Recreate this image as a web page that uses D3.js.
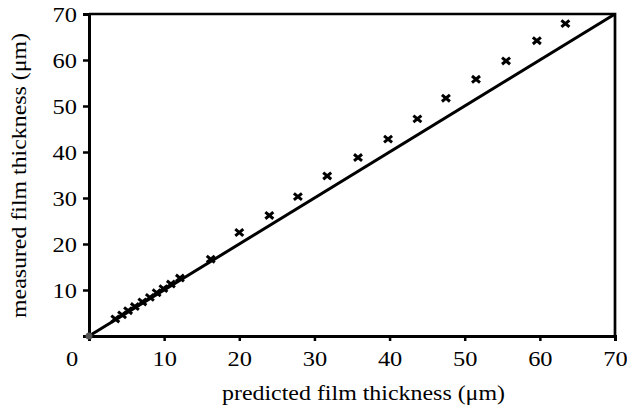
<!DOCTYPE html>
<html>
<head>
<meta charset="utf-8">
<script src="https://cdn.jsdelivr.net/npm/d3@7"></script>
<style>
  body { margin: 0; background: #fff; }
  text { font-family: "Liberation Serif", "Times New Roman", serif; fill: #000; }
</style>
</head>
<body>
<svg id="chart" width="627" height="411"></svg>
<script>
// predicted vs measured film thickness (um)
const predicted = [3.5, 4.4, 5.2, 6.1, 7.1, 8.1, 9.0, 9.9, 10.9, 12.1, 16.2, 20.0, 24.0, 27.8, 31.7, 35.8, 39.8, 43.7, 47.5, 51.5, 55.5, 59.6, 63.4];
const measured  = [3.7, 4.6, 5.5, 6.4, 7.4, 8.4, 9.4, 10.3, 11.3, 12.6, 16.7, 22.5, 26.2, 30.3, 34.8, 38.8, 42.8, 47.2, 51.7, 55.8, 59.8, 64.2, 67.9];
// model line y = x
const lineX = [0, 70];
const xTicks = [0, 10, 20, 30, 40, 50, 60, 70];
const yTicks = [10, 20, 30, 40, 50, 60, 70];

const svg = d3.select("#chart"),
    margin = {top: 14, right: 12, bottom: 75, left: 89},
    width = 627 - margin.left - margin.right,
    height = 411 - margin.top - margin.bottom;

const g = svg.append("g").attr("transform", `translate(${margin.left},${margin.top})`);

const x = d3.scaleLinear().domain([0, 70]).range([0, width]);
const y = d3.scaleLinear().domain([0, 70]).range([height, 0]);

// frame (top and right)
g.append("path")
  .attr("d", `M0,0H${width}V${height}`)
  .attr("fill", "none")
  .attr("stroke", "#000")
  .attr("stroke-width", 2.7);

const xAxis = g.append("g")
  .attr("transform", `translate(0,${height})`)
  .call(d3.axisBottom(x).tickValues(xTicks).tickSize(5).tickPadding(10).tickFormat(d3.format("d")));

const yAxis = g.append("g")
  .call(d3.axisLeft(y).tickValues(yTicks).tickSize(6).tickPadding(6).tickFormat(d3.format("d")));

[xAxis, yAxis].forEach(a => {
  a.select(".domain").attr("stroke-width", 3).attr("stroke", "#000");
  a.selectAll(".tick line").attr("stroke-width", 2.5).attr("stroke", "#000");
  a.selectAll(".tick text")
    .style("font-family", '"Liberation Serif", serif')
    .style("font-size", "21px")
    .attr("fill", "#000")
    .attr("textLength", d => String(d).length * 12.2)
    .attr("lengthAdjust", "spacingAndGlyphs");
});
yAxis.selectAll(".tick text").attr("dy", "0.34em");
// the "0" sits left of the corner in the original
xAxis.selectAll(".tick").filter(d => d === 0).select("text").attr("x", -17.5);

// y = x line
g.append("path")
  .datum(lineX)
  .attr("d", d3.line().x(d => x(d)).y(d => y(d)))
  .attr("fill", "none")
  .attr("stroke", "#000")
  .attr("stroke-width", 3);

// origin point
g.append("circle")
  .attr("cx", x(0)).attr("cy", y(0)).attr("r", 3.5)
  .attr("fill", "#555");

// x markers
const pts = predicted.map((p, i) => ({p: p, m: measured[i]}));
g.selectAll(".mark")
  .data(pts)
  .join("path")
  .attr("class", "mark")
  .attr("transform", d => `translate(${x(d.p)},${y(d.m)})`)
  .attr("d", "M-4,-3.3L4,3.3M-4,3.3L4,-3.3")
  .attr("stroke", "#000")
  .attr("stroke-width", 3)
  .attr("fill", "none");

// axis titles
svg.append("text")
  .attr("x", 363.5)
  .attr("y", 400)
  .attr("text-anchor", "middle")
  .attr("textLength", 283)
  .attr("lengthAdjust", "spacingAndGlyphs")
  .style("font-size", "20px")
  .text("predicted film thickness (μm)");

svg.append("text")
  .attr("transform", "translate(26,175.5) rotate(-90)")
  .attr("text-anchor", "middle")
  .attr("textLength", 285)
  .attr("lengthAdjust", "spacingAndGlyphs")
  .style("font-size", "20px")
  .text("measured film thickness (μm)");
</script>
</body>
</html>
